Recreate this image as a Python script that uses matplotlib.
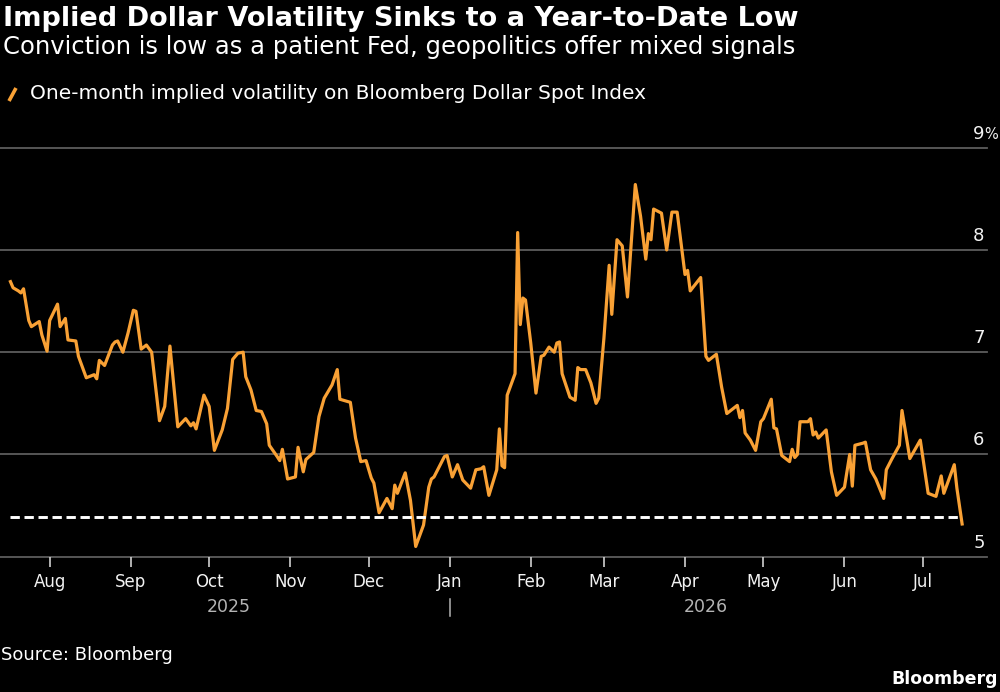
import matplotlib
matplotlib.use("Agg")
import matplotlib.pyplot as plt
import matplotlib.dates as mdates
import matplotlib.transforms as mtransforms
from matplotlib.lines import Line2D
import pandas as pd

# ---------------- data ----------------
dates = [
    "2025-07-17", "2025-07-18", "2025-07-20", "2025-07-21", "2025-07-22", "2025-07-24", "2025-07-25",
    "2025-07-28", "2025-07-29", "2025-07-31", "2025-08-01", "2025-08-04", "2025-08-05", "2025-08-07",
    "2025-08-08", "2025-08-11", "2025-08-12", "2025-08-15", "2025-08-18", "2025-08-19", "2025-08-20",
    "2025-08-22", "2025-08-25", "2025-08-26", "2025-08-27", "2025-08-29", "2025-08-31", "2025-09-02",
    "2025-09-03", "2025-09-05", "2025-09-07", "2025-09-09", "2025-09-12", "2025-09-14", "2025-09-16",
    "2025-09-19", "2025-09-22", "2025-09-24", "2025-09-25", "2025-09-26", "2025-09-29", "2025-10-01",
    "2025-10-03", "2025-10-06", "2025-10-08", "2025-10-10", "2025-10-12", "2025-10-14", "2025-10-15",
    "2025-10-17", "2025-10-19", "2025-10-21", "2025-10-23", "2025-10-24", "2025-10-27", "2025-10-28",
    "2025-10-29", "2025-10-31", "2025-11-03", "2025-11-04", "2025-11-06", "2025-11-07", "2025-11-10",
    "2025-11-12", "2025-11-14", "2025-11-17", "2025-11-19", "2025-11-20", "2025-11-24", "2025-11-26",
    "2025-11-28", "2025-11-30", "2025-12-02", "2025-12-03", "2025-12-05", "2025-12-08", "2025-12-10",
    "2025-12-11", "2025-12-12", "2025-12-15", "2025-12-17", "2025-12-19", "2025-12-22", "2025-12-24",
    "2025-12-25", "2025-12-26", "2025-12-30", "2025-12-31", "2026-01-02", "2026-01-04", "2026-01-06",
    "2026-01-09", "2026-01-11", "2026-01-13", "2026-01-14", "2026-01-16", "2026-01-19", "2026-01-20",
    "2026-01-21", "2026-01-22", "2026-01-23", "2026-01-26", "2026-01-27", "2026-01-28", "2026-01-29",
    "2026-01-30", "2026-02-01", "2026-02-03", "2026-02-05", "2026-02-06", "2026-02-08", "2026-02-10",
    "2026-02-11", "2026-02-12", "2026-02-13", "2026-02-16", "2026-02-18", "2026-02-19", "2026-02-20",
    "2026-02-22", "2026-02-24", "2026-02-26", "2026-02-27", "2026-03-01", "2026-03-03", "2026-03-04",
    "2026-03-06", "2026-03-08", "2026-03-10", "2026-03-13", "2026-03-15", "2026-03-17", "2026-03-18",
    "2026-03-19", "2026-03-20", "2026-03-23", "2026-03-25", "2026-03-27", "2026-03-29", "2026-04-01",
    "2026-04-02", "2026-04-03", "2026-04-07", "2026-04-09", "2026-04-10", "2026-04-13", "2026-04-15",
    "2026-04-17", "2026-04-21", "2026-04-22", "2026-04-23", "2026-04-24", "2026-04-26", "2026-04-28",
    "2026-04-30", "2026-05-01", "2026-05-04", "2026-05-05", "2026-05-06", "2026-05-08", "2026-05-11",
    "2026-05-12", "2026-05-13", "2026-05-14", "2026-05-15", "2026-05-18", "2026-05-19", "2026-05-20",
    "2026-05-21", "2026-05-22", "2026-05-25", "2026-05-27", "2026-05-29", "2026-06-01", "2026-06-03",
    "2026-06-04", "2026-06-05", "2026-06-08", "2026-06-09", "2026-06-11", "2026-06-13", "2026-06-16",
    "2026-06-17", "2026-06-19", "2026-06-22", "2026-06-23", "2026-06-26", "2026-06-30", "2026-07-03",
    "2026-07-06", "2026-07-08", "2026-07-09", "2026-07-13", "2026-07-14", "2026-07-16",
]
values = [
    7.69, 7.63, 7.60, 7.58, 7.62, 7.31, 7.25,
    7.30, 7.17, 7.01, 7.31, 7.47, 7.25, 7.33,
    7.12, 7.11, 6.96, 6.75, 6.78, 6.74, 6.92,
    6.87, 7.07, 7.10, 7.11, 7.00, 7.19, 7.41,
    7.40, 7.03, 7.07, 7.00, 6.33, 6.47, 7.06,
    6.27, 6.35, 6.28, 6.31, 6.25, 6.58, 6.47,
    6.04, 6.24, 6.45, 6.93, 6.99, 7.00, 6.76,
    6.63, 6.43, 6.42, 6.30, 6.09, 5.98, 5.94,
    6.05, 5.76, 5.78, 6.07, 5.83, 5.95, 6.02,
    6.37, 6.55, 6.68, 6.83, 6.54, 6.51, 6.16,
    5.93, 5.94, 5.77, 5.72, 5.43, 5.57, 5.47,
    5.70, 5.62, 5.82, 5.55, 5.10, 5.31, 5.68,
    5.76, 5.78, 5.98, 5.99, 5.78, 5.90, 5.75,
    5.67, 5.85, 5.86, 5.88, 5.60, 5.85, 6.25,
    5.89, 5.87, 6.58, 6.79, 8.17, 7.27, 7.53,
    7.51, 7.09, 6.60, 6.96, 6.97, 7.05, 7.00,
    7.09, 7.10, 6.79, 6.56, 6.53, 6.85, 6.83,
    6.83, 6.70, 6.50, 6.55, 7.14, 7.85, 7.37,
    8.10, 8.04, 7.54, 8.64, 8.33, 7.91, 8.16,
    8.10, 8.40, 8.36, 8.00, 8.37, 8.37, 7.76,
    7.80, 7.60, 7.73, 6.96, 6.92, 6.98, 6.66,
    6.40, 6.48, 6.36, 6.43, 6.21, 6.14, 6.04,
    6.32, 6.35, 6.54, 6.26, 6.25, 5.99, 5.93,
    6.05, 5.97, 6.00, 6.32, 6.32, 6.35, 6.19,
    6.22, 6.16, 6.24, 5.83, 5.60, 5.68, 6.00,
    5.69, 6.09, 6.11, 6.12, 5.85, 5.76, 5.57,
    5.85, 5.95, 6.09, 6.43, 5.96, 6.14, 5.62,
    5.59, 5.79, 5.62, 5.90, 5.67, 5.32,
]
ytd_low = 5.39
y_ticks = [5, 6, 7, 8, 9]
y_labels = ["5", "6", "7", "8", "9"]
month_ticks = ["2025-08-01", "2025-09-01", "2025-10-01", "2025-11-01", "2025-12-01", "2026-01-01",
               "2026-02-01", "2026-03-01", "2026-04-01", "2026-05-01", "2026-06-01", "2026-07-01"]
month_labels = ["Aug", "Sep", "Oct", "Nov", "Dec", "Jan", "Feb", "Mar", "Apr", "May", "Jun", "Jul"]
year_labels = ["2025", "2026"]
year_bounds = [("2025-12-31"), ("2026-01-01")]

title = "Implied Dollar Volatility Sinks to a Year-to-Date Low"
subtitle = "Conviction is low as a patient Fed, geopolitics offer mixed signals"
legend_label = "One-month implied volatility on Bloomberg Dollar Spot Index"
source = "Source: Bloomberg"

# ---------------- style ----------------
ORANGE = "#F9A135"
BG = "#000000"
GRID = "#5c5c5c"
TXT = "#f2f2f2"
YEARC = "#b4b4b4"
plt.rcParams["font.family"] = ["DejaVu Sans"]

W, H = 1000, 692
fig = plt.figure(figsize=(W / 100, H / 100), dpi=100, facecolor=BG)

ax_top, ax_bot, ax_right = 147.7, 556.7, 986.7
ax = fig.add_axes([0, 1 - ax_bot / H, ax_right / W, (ax_bot - ax_top) / H])
ax.set_facecolor(BG)
for s in ax.spines.values():
    s.set_visible(False)

d = pd.to_datetime(dates)
ref = pd.Timestamp("2025-08-01")
ax.set_xlim(mdates.date2num(ref - pd.Timedelta(days=19.0)),
            mdates.date2num(ref + pd.Timedelta(days=358.4)))
ax.set_ylim(min(y_ticks), max(y_ticks))

for y in y_ticks:
    ax.axhline(y, color=GRID, lw=1.3, clip_on=False, zorder=0)

ax.plot(d, values, color=ORANGE, lw=2.3, solid_joinstyle="round", zorder=3, clip_on=False)
ax.hlines(ytd_low, d[0], d[-1], colors="white", linestyles=(0, (3.2, 1.6)), lw=2.1, zorder=4)

# y labels (above gridlines, right aligned; % hangs outside)
for y, lab in zip(y_ticks, y_labels):
    ax.annotate(lab, xy=(1.0, y), xycoords=("axes fraction", "data"),
                xytext=(-1.5, 6.5), textcoords="offset points",
                ha="right", va="baseline", color=TXT, fontsize=13, annotation_clip=False)
ax.annotate("%", xy=(1.0, max(y_ticks)), xycoords=("axes fraction", "data"),
            xytext=(-1.5, 6.5), textcoords="offset points",
            ha="left", va="baseline", color=TXT, fontsize=10.5, annotation_clip=False)

ax.set_yticks([])
ax.set_xticks(pd.to_datetime(month_ticks))
ax.set_xticklabels(month_labels)
ax.tick_params(axis="x", length=7.5, width=1.2, color="#d0d0d0", pad=4,
               labelsize=12, labelcolor=TXT, direction="out")

# year labels centered on data span within each year
bt = mtransforms.blended_transform_factory(ax.transData, fig.transFigure)
spans = [(d[0], pd.Timestamp(year_bounds[0])), (pd.Timestamp(year_bounds[1]), d[-1])]
for lab, (a, b) in zip(year_labels, spans):
    mid = a + (b - a) / 2
    fig.text(mdates.date2num(mid), 1 - 606.7 / H, lab, transform=bt, ha="center", va="center",
             color=YEARC, fontsize=12.5)
jan = mdates.date2num(pd.Timestamp(year_bounds[1]))
fig.add_artist(Line2D([jan, jan], [1 - 599 / H, 1 - 616 / H], transform=bt, color=YEARC, lw=1.1))

# header
fig.text(3 / W, 1 - 26 / H, title, fontsize=19.5, fontweight="bold", color="white", va="baseline")
fig.text(3 / W, 1 - 54 / H, subtitle, fontsize=17.5, color="white", va="baseline")
fig.add_artist(Line2D([9 / W, 16 / W], [1 - 101 / H, 1 - 88 / H], color=ORANGE, lw=2.6,
                      solid_capstyle="butt"))
fig.text(30 / W, 1 - 99 / H, legend_label, fontsize=14.5, color="white", va="baseline")

# footer
fig.text(1 / W, 1 - 660 / H, source, fontsize=13, color="white", va="baseline")
fig.text(998 / W, 1 - 684 / H, "Bloomberg", fontsize=12.5, fontweight="bold", color="white",
         va="baseline", ha="right")

fig.savefig("out.png", dpi=100, facecolor=BG)
